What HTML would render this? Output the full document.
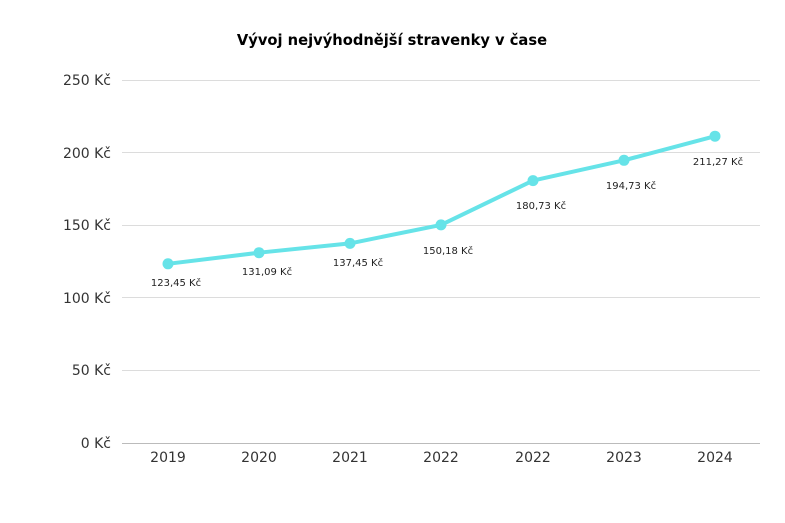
<!DOCTYPE html>
<html><head><meta charset="utf-8"><style>
html,body{margin:0;padding:0;background:#fff}
svg{display:block}
text{font-family:"DejaVu Sans","Liberation Sans",sans-serif}
</style></head><body>
<svg width="785" height="523" xmlns="http://www.w3.org/2000/svg">
<text x="392" y="45" text-anchor="middle" font-size="14.7" font-weight="bold" fill="#000">Vývoj nejvýhodnější stravenky v čase</text>
<g stroke="#dcdcdc" stroke-width="1">
<line x1="122" y1="80.5" x2="760" y2="80.5"/>
<line x1="122" y1="152.5" x2="760" y2="152.5"/>
<line x1="122" y1="225.5" x2="760" y2="225.5"/>
<line x1="122" y1="297.5" x2="760" y2="297.5"/>
<line x1="122" y1="370.5" x2="760" y2="370.5"/>
</g>
<line x1="122" y1="443.5" x2="760" y2="443.5" stroke="#bbb"/>
<g font-size="14" fill="#333" text-anchor="end">
<text x="111" y="85">250 Kč</text>
<text x="111" y="158">200 Kč</text>
<text x="111" y="230">150 Kč</text>
<text x="111" y="303">100 Kč</text>
<text x="111" y="375">50 Kč</text>
<text x="111" y="448">0 Kč</text>
</g>
<g font-size="14" fill="#333" text-anchor="middle">
<text x="168" y="462">2019</text><text x="259" y="462">2020</text><text x="350" y="462">2021</text><text x="441" y="462">2022</text><text x="533" y="462">2022</text><text x="624" y="462">2023</text><text x="715" y="462">2024</text>
</g>
<polyline fill="none" stroke="#66e3e8" stroke-width="4" stroke-linejoin="round" points="168,263.8 259,252.7 350,243.4 441,224.9 533,180.6 624,160.3 715,136.2"/>
<g fill="#66e3e8">
<circle cx="168" cy="263.8" r="5.5"/><circle cx="259" cy="252.7" r="5.5"/><circle cx="350" cy="243.4" r="5.5"/><circle cx="441" cy="224.9" r="5.5"/><circle cx="533" cy="180.6" r="5.5"/><circle cx="624" cy="160.3" r="5.5"/><circle cx="715" cy="136.2" r="5.5"/>
</g>
<g font-size="10" fill="#222" text-anchor="middle">
<text x="176" y="286">123,45 Kč</text>
<text x="267" y="275">131,09 Kč</text>
<text x="358" y="266">137,45 Kč</text>
<text x="448" y="254">150,18 Kč</text>
<text x="541" y="209">180,73 Kč</text>
<text x="631" y="189">194,73 Kč</text>
<text x="718" y="165">211,27 Kč</text>
</g>
</svg>
</body></html>
